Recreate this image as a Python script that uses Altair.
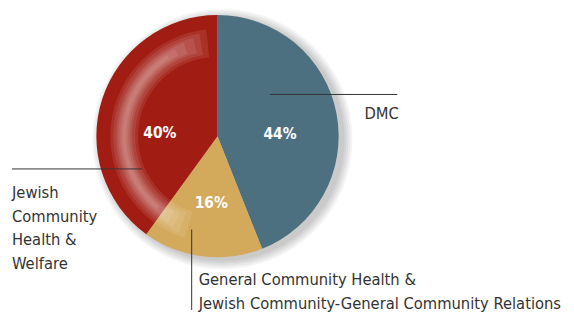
import math
import altair as alt
import pandas as pd

categories = ["DMC", "General Community Health & Jewish Community-General Community Relations", "Jewish Community Health & Welfare"]
values = [44, 16, 40]
colors = ["#4d7080", "#d3a95c", "#a11d13"]
pct_labels = ["44%", "16%", "40%"]

total = sum(values)
df = pd.DataFrame({"cat": categories, "value": values, "pct": pct_labels})
df["end"] = df["value"].cumsum() / total * 2 * math.pi
df["start"] = df["end"] - df["value"] / total * 2 * math.pi
df["mid"] = (df["start"] + df["end"]) / 2

CX, CY, R = 211, 122, 122
FONT = "DejaVu Sans Condensed, sans-serif"

base = alt.Chart(df)
one = alt.Chart(df.head(1))

# soft drop shadow (style layers)
shadow = [
    one.mark_arc(color="#000000", opacity=0.045).encode(
        x=alt.value(CX + 5), y=alt.value(CY + 3),
        theta=alt.value(0), theta2=alt.value(2 * math.pi), radius=alt.value(r))
    for r in (131, 129, 127, 125, 123)
]

pie = base.mark_arc(stroke=None).encode(
    x=alt.value(CX), y=alt.value(CY),
    theta=alt.Theta("start:Q", scale=None), theta2="end",
    radius=alt.value(R),
    color=alt.Color("cat:N", scale=alt.Scale(domain=categories, range=colors), legend=None),
)

# soft highlight ring on the left side (style layers)
RING_C = 94
bands = [(14, 198, 354), (11, 202, 350), (8, 206, 346),
         (6, 210, 340), (4, 214, 334), (2, 220, 328)]
ring = [
    one.mark_arc(color="#ffffff", opacity=0.09).encode(
        x=alt.value(CX), y=alt.value(CY),
        theta=alt.value(math.radians(t1)), theta2=alt.value(math.radians(t2)),
        radius=alt.value(RING_C - hw), radius2=alt.value(RING_C + hw))
    for hw, t1, t2 in bands
]

label_tweaks = {categories[0]: (62, 2, 9), categories[1]: (66, 2, 1.5), categories[2]: (60, -1, 15.5)}
pct_layers = []
for c in categories:
    r, dx, dy = label_tweaks[c]
    pct_layers.append(
        base.transform_filter(alt.datum.cat == c).mark_text(
            font=FONT, fontSize=15.5, fontWeight="bold", color="white",
            align="center", baseline="middle", dx=dx, dy=dy,
        ).encode(
            x=alt.value(CX), y=alt.value(CY),
            theta=alt.Theta("mid:Q", scale=None), radius=alt.value(r),
            text="pct:N",
        )
    )

line_style = dict(color="#333333", strokeWidth=1)
rule_dmc = one.mark_rule(**line_style).encode(
    x=alt.value(264), x2=alt.value(392), y=alt.value(80))
rule_jew = one.mark_rule(**line_style).encode(
    x=alt.value(4), x2=alt.value(135), y=alt.value(155))
rule_gen = one.mark_rule(**line_style).encode(
    x=alt.value(185), y=alt.value(216), y2=alt.value(297))

txt_style = dict(font=FONT, fontSize=16.5, color="#333333", align="left",
                 baseline="alphabetic", lineHeight=24)
t_dmc = one.mark_text(**txt_style, text="DMC").encode(
    x=alt.value(359), y=alt.value(105))
t_jew = one.mark_text(
    **txt_style, text=["Jewish", "Community", "Health &", "Welfare"]).encode(
    x=alt.value(4), y=alt.value(184))
t_gen = one.mark_text(
    **txt_style, text=["General Community Health &", "Jewish Community-General Community Relations"]).encode(
    x=alt.value(192), y=alt.value(272))

chart = alt.layer(*shadow, pie, *ring, *pct_layers, rule_dmc, rule_jew, rule_gen, t_dmc, t_jew, t_gen).properties(
    width=562, height=297, padding=0
).configure_view(stroke=None)

chart.save("out.html", embed_options={"renderer": "svg", "actions": False})
